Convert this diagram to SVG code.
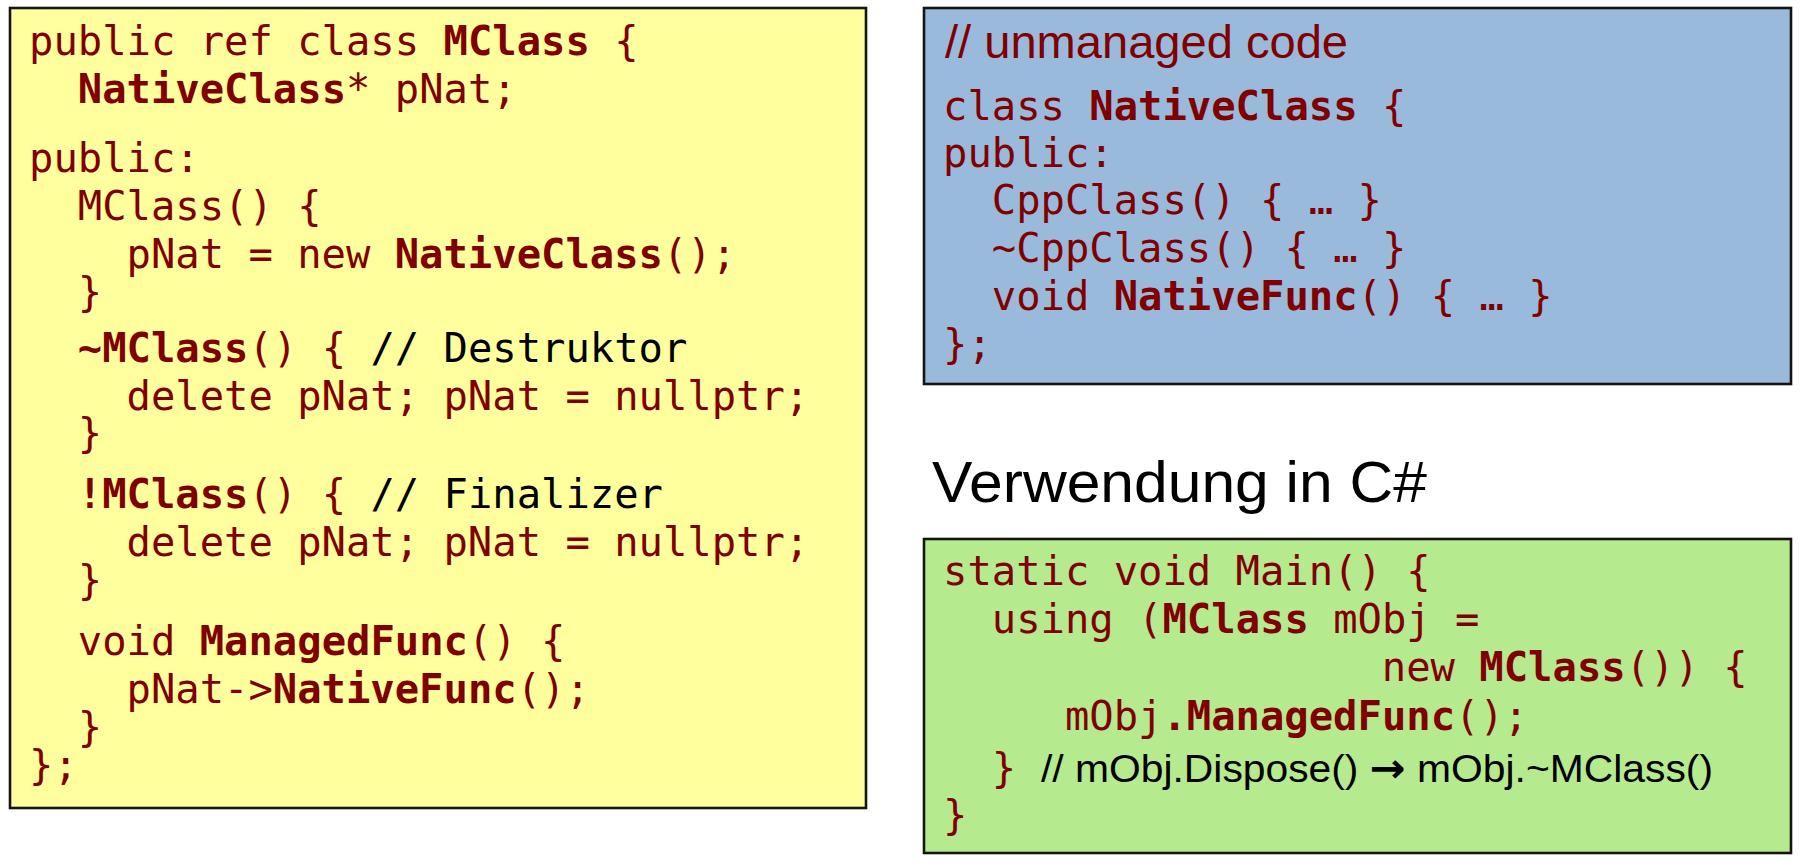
<svg xmlns="http://www.w3.org/2000/svg" width="1803" height="868" viewBox="0 0 1803 868">
<style>
.box{stroke:#141414;stroke-width:2.6}
.code{font-family:"DejaVu Sans Mono","Liberation Mono",monospace;font-size:40.5px;fill:#800000}
.b{font-weight:bold}
.cm{fill:#000}
.sans{font-family:"Liberation Sans","Noto Sans",sans-serif}
.arr{font-family:"DejaVu Sans",sans-serif;font-weight:bold;font-size:40px}
</style>
<rect width="1803" height="868" fill="#ffffff"/>
<g id="managed-class">
<rect class="box" x="10" y="8" width="856" height="800" fill="#FFFF9E"/>
<text class="code" x="29" y="55">public ref class <tspan class="b">MClass</tspan> {</text>
<text class="code" x="77.8" y="103"><tspan class="b">NativeClass</tspan>* pNat;</text>
<text class="code" x="29" y="172">public:</text>
<text class="code" x="77.8" y="220">MClass() {</text>
<text class="code" x="126.5" y="268">pNat = new <tspan class="b">NativeClass</tspan>();</text>
<text class="code" x="77.8" y="306">}</text>
<text class="code" x="77.8" y="362"><tspan class="b">~MClass</tspan>() { <tspan class="cm">// Destruktor</tspan></text>
<text class="code" x="126.5" y="410">delete pNat; pNat = nullptr;</text>
<text class="code" x="77.8" y="447">}</text>
<text class="code" x="77.8" y="508"><tspan class="b">!MClass</tspan>() { <tspan class="cm">// Finalizer</tspan></text>
<text class="code" x="126.5" y="556">delete pNat; pNat = nullptr;</text>
<text class="code" x="77.8" y="594">}</text>
<text class="code" x="77.8" y="655">void <tspan class="b">ManagedFunc</tspan>() {</text>
<text class="code" x="126.5" y="703">pNat-&gt;<tspan class="b">NativeFunc</tspan>();</text>
<text class="code" x="77.8" y="741">}</text>
<text class="code" x="29" y="779">};</text>
</g>
<g id="native-class">
<rect class="box" x="924" y="8" width="867" height="376" fill="#9ABADC"/>
<text class="sans" x="945" y="58" font-size="46" fill="#800000" textLength="403" lengthAdjust="spacingAndGlyphs">// unmanaged code</text>
<text class="code" x="943" y="120">class <tspan class="b">NativeClass</tspan> {</text>
<text class="code" x="943" y="167">public:</text>
<text class="code" x="991.8" y="214">CppClass() { … }</text>
<text class="code" x="991.8" y="262">~CppClass() { … }</text>
<text class="code" x="991.8" y="310">void <tspan class="b">NativeFunc</tspan>() { … }</text>
<text class="code" x="943" y="358">};</text>
</g>
<g id="heading">
<text class="sans" x="932" y="502" font-size="58" fill="#000" textLength="495" lengthAdjust="spacingAndGlyphs">Verwendung in C#</text>
</g>
<g id="csharp-usage">
<rect class="box" x="924" y="539" width="867" height="314" fill="#B6EA8F"/>
<text class="code" x="943" y="585">static void Main() {</text>
<text class="code" x="991.8" y="633">using (<tspan class="b">MClass</tspan> mObj =</text>
<text class="code" x="1381.8" y="681">new <tspan class="b">MClass</tspan>()) {</text>
<text class="code" x="1064.9" y="730">mObj<tspan class="b">.ManagedFunc</tspan>();</text>
<text class="code" x="991.8" y="782">}</text>
<text class="sans" x="1041" y="782" font-size="38" fill="#000" textLength="672" lengthAdjust="spacingAndGlyphs">// mObj.Dispose() <tspan class="arr">→</tspan> mObj.~MClass()</text>
<text class="code" x="943" y="829">}</text>
</g>
<g id="connectors"/>
</svg>
